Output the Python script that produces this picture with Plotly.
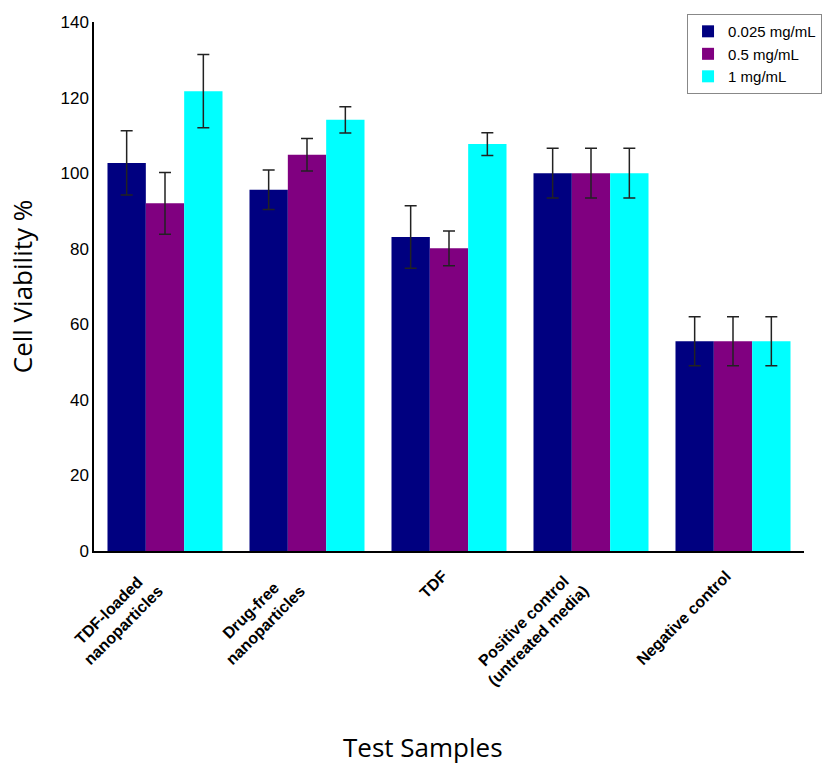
import plotly.graph_objects as go

categories = ["TDF-loaded<br>nanoparticles", "Drug-free<br>nanoparticles", "TDF",
              "Positive control<br>(untreated media)", "Negative control"]
series_names = ["0.025 mg/mL", "0.5 mg/mL", "1 mg/mL"]
vals_0025 = [102.7, 95.6, 83.1, 100.0, 55.5]
err_0025 = [8.5, 5.2, 8.3, 6.6, 6.5]
vals_05 = [92.0, 104.9, 80.1, 100.0, 55.5]
err_05 = [8.2, 4.3, 4.6, 6.6, 6.5]
vals_1 = [121.7, 114.1, 107.7, 100.0, 55.5]
err_1 = [9.7, 3.5, 3.0, 6.6, 6.5]
y_ticks = [0, 20, 40, 60, 80, 100, 120, 140]

colors = ["#000080", "#800080", "#00FFFF"]
SANS = "Liberation Sans, Arial, sans-serif"

fig = go.Figure()
for name, vals, errs, col in zip(series_names, [vals_0025, vals_05, vals_1],
                                 [err_0025, err_05, err_1], colors):
    fig.add_trace(go.Bar(
        x=categories, y=vals, name=name,
        marker=dict(color=col, line=dict(width=0)),
        error_y=dict(type="data", array=errs, visible=True,
                     color="#222222", thickness=1.5, width=6),
    ))

# category labels, rotated and centred, anchored at each category position
cat_labels = [dict(text=c, x=c, xref="x", yref="paper", y=-0.026,
                   xanchor="right", yanchor="top", textangle=-45, align="center",
                   showarrow=False, xshift=4,
                   font=dict(size=16, weight="bold", family=SANS, color="#000"))
              for c in categories]

fig.update_layout(
    width=827, height=764,
    margin=dict(l=94, r=23, t=22, b=213, autoexpand=False),
    barmode="group", bargap=0.19, bargroupgap=0,
    plot_bgcolor="white", paper_bgcolor="white",
    font=dict(family=SANS, color="#000"),
    legend=dict(x=1.0254, y=1.015, xanchor="right", yanchor="top",
                bordercolor="#888888", borderwidth=1,
                font=dict(size=15, family=SANS),
                tracegroupgap=0, itemwidth=30),
    xaxis=dict(showline=True, linecolor="#000", linewidth=1.5, ticks="",
               showticklabels=False, automargin=False, range=[-0.5, 4.5]),
    yaxis=dict(showline=True, linecolor="#000", linewidth=1.5, ticks="",
               range=[0, 140], tickvals=y_ticks, showgrid=False, zeroline=False,
               tickfont=dict(size=17), automargin=False,
               title=dict(text="Cell Viability %", standoff=20,
                          font=dict(size=26, family="Open Sans, sans-serif"))),
    annotations=cat_labels + [dict(text="Test Samples", xref="paper", yref="paper",
                      x=0.4634, y=-0.3705, xanchor="center", yanchor="middle",
                      showarrow=False,
                      font=dict(size=26, family="Open Sans, sans-serif", color="#000"))],
)

fig.write_html("out.html", config={"displayModeBar": False},
               post_script="document.body.style.margin='0';document.body.style.overflow='hidden';")
